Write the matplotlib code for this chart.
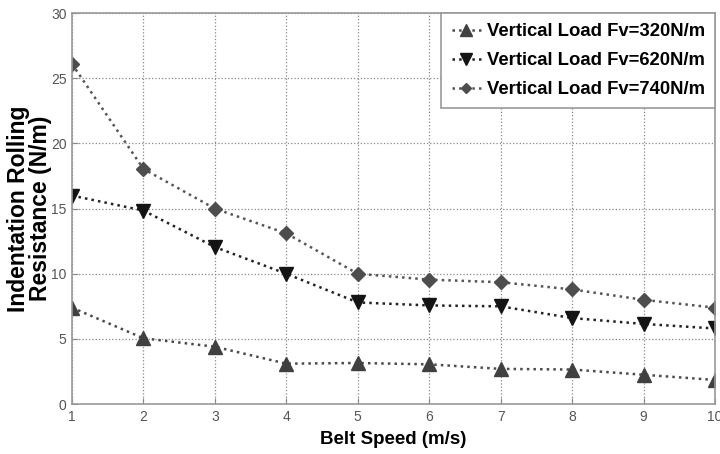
import numpy as np
import matplotlib.pyplot as plt

# belt speed (m/s)
speed = [1, 2, 3, 4, 5, 6, 7, 8, 9, 10]

# indentation rolling resistance (N/m) for each vertical load
res_320 = [7.4, 5.05, 4.4, 3.1, 3.15, 3.05, 2.7, 2.65, 2.25, 1.85]
res_620 = [16.0, 14.85, 12.05, 10.0, 7.8, 7.57, 7.5, 6.6, 6.15, 5.8]
res_740 = [26.1, 18.05, 15.0, 13.1, 10.0, 9.55, 9.35, 8.8, 8.0, 7.4]

labels = ["Vertical Load Fv=320N/m", "Vertical Load Fv=620N/m", "Vertical Load Fv=740N/m"]

bold_font = ["Liberation Sans", "DejaVu Sans"]

fig = plt.figure(figsize=(7.2, 4.54), dpi=100)
ax = fig.add_axes([0.1, 0.11, 0.893, 0.861])

ax.plot(speed, res_320, linestyle=':', lw=1.8, color='#4a4a4a', marker='^', ms=10,
        mfc='#404040', mec='#404040', label=labels[0])
ax.plot(speed, res_620, linestyle=':', lw=1.8, color='#222222', marker='v', ms=10,
        mfc='#141414', mec='#141414', label=labels[1])
ax.plot(speed, res_740, linestyle=':', lw=1.8, color='#555555', marker='D', ms=7,
        mfc='#4d4d4d', mec='#4d4d4d', label=labels[2])

ax.set_xlim(1, 10)
ax.set_ylim(0, 30)
ax.set_xticks(speed)
ax.set_yticks(np.arange(0, 31, 5))
ax.grid(True, linestyle=':', color='#888888', lw=0.9)
ax.tick_params(direction='in', length=4, colors='#888888', labelcolor='#555555', labelsize=10, pad=4)
for lab in ax.get_xticklabels() + ax.get_yticklabels():
    lab.set_family(bold_font)
for s in ax.spines.values():
    s.set_color('#999999')
    s.set_linewidth(1.2)

ax.set_xlabel("Belt Speed (m/s)", fontsize=13.5, fontweight='bold', family=bold_font)
ax.xaxis.set_label_coords(0.5, -0.068)
ax.set_ylabel("Indentation Rolling\nResistance (N/m)", fontsize=16.5, fontweight='bold',
              family=bold_font, linespacing=0.95)
ax.yaxis.set_label_coords(-0.031, 0.5)

leg = ax.legend(loc='upper right', fancybox=False, framealpha=1, edgecolor='#999999',
                borderaxespad=0, handlelength=1.6, handletextpad=0.3, labelspacing=0.65,
                borderpad=0.55, markerscale=0.8,
                prop={'family': bold_font, 'weight': 'bold', 'size': 13.3})
leg.get_frame().set_linewidth(1.2)

fig.savefig("out.png", dpi=100)
